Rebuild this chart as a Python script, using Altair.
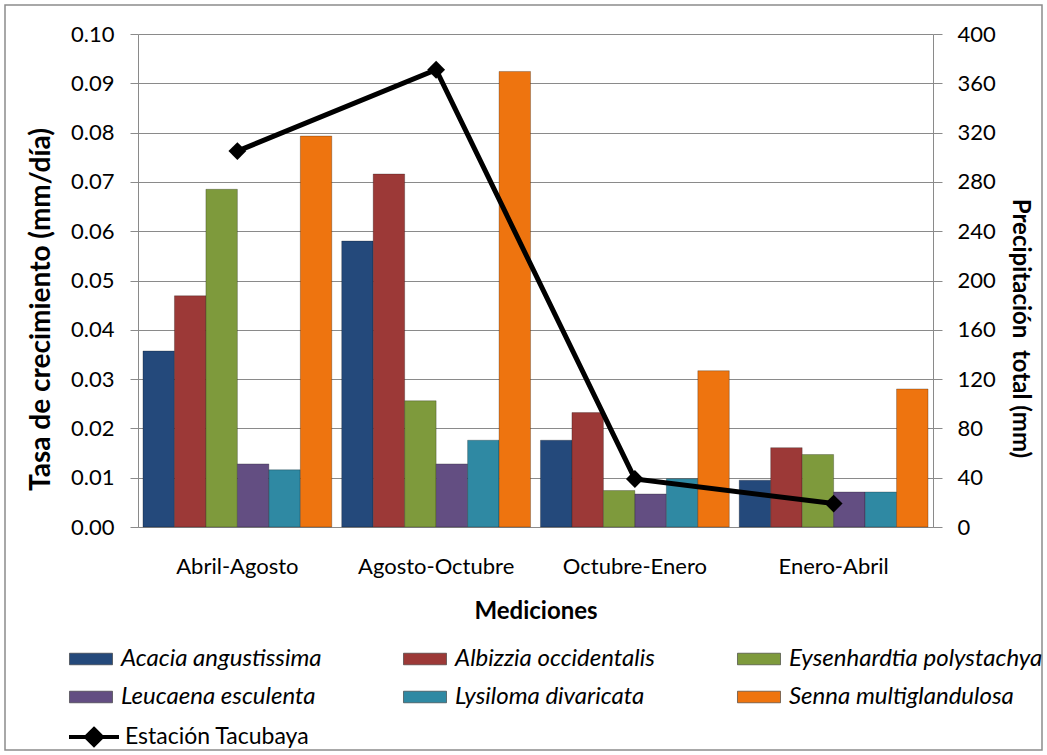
import altair as alt
import pandas as pd

# Measurement periods (x categories)
periodos = ["Abril-Agosto", "Agosto-Octubre", "Octubre-Enero", "Enero-Abril"]

# Species and their growth rates (mm/día) per period
especies = [
    "Acacia angustissima",
    "Albizzia occidentalis",
    "Eysenhardtia polystachya",
    "Leucaena esculenta",
    "Lysiloma divaricata",
    "Senna multiglandulosa",
]
acacia = [0.0357, 0.0580, 0.0176, 0.0095]
albizzia = [0.0469, 0.0716, 0.0232, 0.0161]
eysenhardtia = [0.0685, 0.0256, 0.0074, 0.0147]
leucaena = [0.0128, 0.0128, 0.0067, 0.0071]
lysiloma = [0.0116, 0.0176, 0.0098, 0.0071]
senna = [0.0793, 0.0924, 0.0317, 0.0280]

# Total precipitation (mm) at the weather station
estacion = "Estación Tacubaya"
precipitacion = [305, 371, 39, 19]

colores = ["#24497B", "#9C3937", "#7E9A3C", "#634E82", "#2F89A3", "#EE740F"]

FONT = "Lato"
GRID = "#8A8A8A"

series = [acacia, albizzia, eysenhardtia, leucaena, lysiloma, senna]
barras = pd.DataFrame(
    [
        {"Periodo": p, "Especie": e, "Tasa": v}
        for e, vals in zip(especies, series)
        for p, v in zip(periodos, vals)
    ]
)
lluvia = pd.DataFrame(
    {"Periodo": periodos, "Precip": precipitacion, "Serie": [estacion] * len(periodos)}
)

W, H = 795, 493

x_enc = alt.X(
    "Periodo:N",
    sort=periodos,
    scale=alt.Scale(paddingInner=0.05, paddingOuter=0.025),
    axis=alt.Axis(
        title="Mediciones",
        labelAngle=0,
        labelFontSize=22,
        labelPadding=29,
        titleFontSize=24,
        titleFontWeight="bold",
        titlePadding=22,
        ticks=False,
        domainColor=GRID,
        labelColor="black",
        titleColor="black",
    ),
)

# Chart frame
marco = alt.Chart(pd.DataFrame({"k": [0]})).mark_rect(
    fill=None, stroke="#8C8C8C", strokeWidth=1.5
).encode(
    x=alt.value(-133), x2=alt.value(W + 109),
    y=alt.value(-29), y2=alt.value(H + 223),
)

bars = alt.Chart(barras).mark_bar(
    stroke="black", strokeOpacity=0.25, strokeWidth=1
).encode(
    x=x_enc,
    xOffset=alt.XOffset("Especie:N", sort=especies, scale=alt.Scale(paddingInner=0, paddingOuter=0)),
    y=alt.Y(
        "Tasa:Q",
        scale=alt.Scale(domain=[0, 0.1], nice=False),
        axis=alt.Axis(
            title="Tasa de crecimiento (mm/día)",
            values=[i / 100 for i in range(11)],
            format=".2f",
            orient="left",
            grid=True,
            gridColor=GRID,
            gridWidth=1.2,
            domainColor=GRID,
            tickColor=GRID,
            tickSize=8,
            labelFontSize=22,
            labelPadding=16,
            titleFontSize=28,
            titleFontWeight="bold",
            titlePadding=15,
            titleY=275,
            labelColor="black",
            titleColor="black",
        ),
    ),
    fill=alt.Fill(
        "Especie:N",
        sort=especies,
        scale=alt.Scale(domain=especies, range=colores),
        legend=alt.Legend(
            title=None,
            orient="none",
            legendX=-69,
            legendY=603,
            direction="horizontal",
            columns=3,
            gridAlign="all",
            columnPadding=27,
            rowPadding=4,
            symbolType="M-1,-0.27H1V0.27H-1Z",
            symbolSize=1850,
            symbolStrokeColor="#333333",
            symbolStrokeWidth=0.6,
            labelFontSize=24,
            labelFontStyle="italic",
            labelFont=FONT,
            labelOffset=8,
            labelColor="black",
            labelLimit=400,
        ),
    ),
)

eje_der = alt.Axis(
    title="Precipitación\u00a0 total (mm)",
    values=list(range(0, 401, 40)),
    orient="right",
    grid=False,
    domainColor=GRID,
    tickColor=GRID,
    tickSize=9,
    labelFontSize=22,
    labelPadding=15,
    titleFontSize=24,
    titleFontWeight="bold",
    titlePadding=12,
    titleY=294,
    labelColor="black",
    titleColor="black",
)

y_der = alt.Y("Precip:Q", scale=alt.Scale(domain=[0, 400], nice=False), axis=eje_der)

linea = alt.Chart(lluvia).mark_line(strokeWidth=5).encode(
    x=alt.X("Periodo:N", sort=periodos),
    y=y_der,
    stroke=alt.Stroke(
        "Serie:N",
        scale=alt.Scale(domain=[estacion], range=["black"]),
        legend=alt.Legend(
            title=None,
            orient="none",
            legendX=-71,
            legendY=676,
            symbolType="M-1,0H1M0,-0.32L0.32,0L0,0.32L-0.32,0Z",
            symbolSize=2500,
            symbolStrokeWidth=4,
            symbolFillColor="black",
            labelFontSize=23,
            labelFont=FONT,
            labelOffset=4,
            labelColor="black",
            labelLimit=400,
        ),
    ),
)

puntos = alt.Chart(lluvia).mark_point(
    shape="diamond", size=320, filled=True, color="black", opacity=1
).encode(
    x=alt.X("Periodo:N", sort=periodos),
    y=y_der,
)

derecha = alt.layer(linea, puntos)

chart = (
    alt.layer(marco, bars, derecha)
    .resolve_scale(y="independent", fill="independent", stroke="independent")
    .properties(
        width=W,
        height=H,
        autosize=alt.AutoSizeParams(type="none"),
        padding={"left": 138, "top": 34, "right": 1047 - 138 - W, "bottom": 755 - 34 - H},
        background="white",
    )
    .configure_view(stroke=None)
    .configure_axis(labelFont=FONT, titleFont=FONT)
    .configure_legend(labelFont=FONT)
)

chart.save("out.html", embed_options={"renderer": "svg", "actions": False})
